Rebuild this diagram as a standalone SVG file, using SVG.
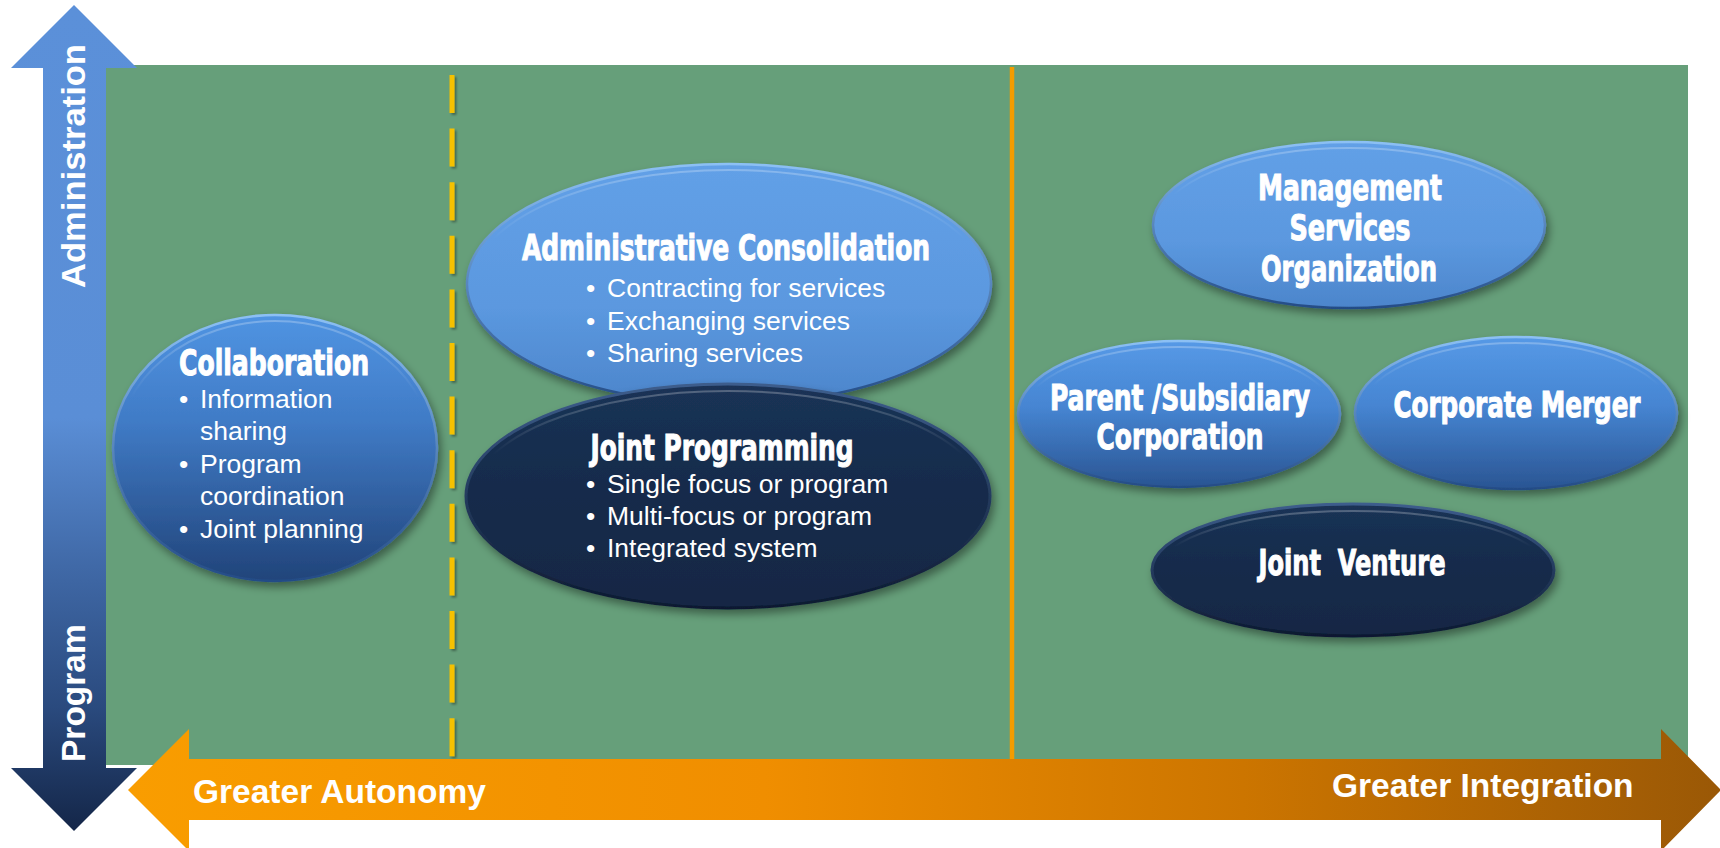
<svg xmlns="http://www.w3.org/2000/svg" width="1720" height="848" viewBox="0 0 1720 848">
<style>
.h{font-family:'Liberation Sans Narrow','DejaVu Sans Condensed','Arial Narrow',sans-serif;font-weight:bold;font-size:35px;fill:#fff;stroke:#fff;stroke-width:1;text-anchor:middle}
.b{font-family:'Liberation Sans',Arial,sans-serif;font-size:26.5px;fill:#fff}
.ax{font-family:'Liberation Sans',Arial,sans-serif;font-weight:bold;font-size:33.5px;fill:#fff}
.light{fill:url(#gLight);stroke:url(#rimLight);stroke-width:2.5;filter:url(#sh)}
.mid{fill:url(#gMid);stroke:url(#rimLight);stroke-width:2.5;filter:url(#sh)}
.collab{fill:url(#gCollab);stroke:url(#rimLight);stroke-width:2.5;filter:url(#sh)}
.dark{fill:url(#gDark);stroke:url(#rimDark);stroke-width:3;filter:url(#sh)}
.hl{fill:none;stroke:url(#hlG);stroke-width:2}
</style>
<defs>
<filter id="sh" x="-10%" y="-10%" width="125%" height="130%">
<feDropShadow dx="3" dy="5" stdDeviation="4" flood-color="#000" flood-opacity="0.4"/>
</filter>
<filter id="lsh" filterUnits="userSpaceOnUse" x="430" y="60" width="50" height="720">
<feDropShadow dx="2" dy="2" stdDeviation="1.2" flood-color="#000" flood-opacity="0.35"/>
</filter>
<linearGradient id="hlG" x1="0" y1="0" x2="0" y2="1">
<stop offset="0" stop-color="#fff" stop-opacity="0.25"/><stop offset="0.3" stop-color="#fff" stop-opacity="0"/>
</linearGradient>
<linearGradient id="gLight" x1="0" y1="0" x2="0" y2="1">
<stop offset="0" stop-color="#62A0E7"/><stop offset="0.6" stop-color="#5B98DF"/><stop offset="1" stop-color="#4C85CB"/>
</linearGradient>
<linearGradient id="gMid" x1="0" y1="0" x2="0" y2="1">
<stop offset="0" stop-color="#5699E6"/><stop offset="0.45" stop-color="#4685D2"/><stop offset="1" stop-color="#2A5593"/>
</linearGradient>
<linearGradient id="gCollab" x1="0" y1="0" x2="0" y2="1">
<stop offset="0" stop-color="#5094E2"/><stop offset="0.4" stop-color="#407BC6"/><stop offset="1" stop-color="#21447A"/>
</linearGradient>
<linearGradient id="gDark" x1="0" y1="0" x2="0" y2="1">
<stop offset="0" stop-color="#1A3255"/><stop offset="0.5" stop-color="#162B4B"/><stop offset="1" stop-color="#132744"/>
</linearGradient>
<linearGradient id="rimLight" x1="0" y1="0" x2="0" y2="1">
<stop offset="0" stop-color="#8CC0F4"/><stop offset="1" stop-color="#244C86"/>
</linearGradient>
<linearGradient id="rimDark" x1="0" y1="0" x2="0" y2="1">
<stop offset="0" stop-color="#3D5D8C"/><stop offset="1" stop-color="#0C1930"/>
</linearGradient>
<linearGradient id="gV" gradientUnits="userSpaceOnUse" x1="0" y1="5" x2="0" y2="831">
<stop offset="0" stop-color="#5B90D9"/><stop offset="0.5" stop-color="#5A8ED6"/><stop offset="0.68" stop-color="#4069A7"/><stop offset="0.85" stop-color="#2A4A7E"/><stop offset="1" stop-color="#142648"/>
</linearGradient>
<linearGradient id="gH" gradientUnits="userSpaceOnUse" x1="128" y1="0" x2="1721" y2="0">
<stop offset="0" stop-color="#F99D00"/><stop offset="0.4" stop-color="#F08E00"/><stop offset="0.7" stop-color="#CC7500"/><stop offset="1" stop-color="#9A5806"/>
</linearGradient>
</defs>

<g id="background">
<rect x="106" y="65" width="1582" height="700" fill="#669F7A"/>
</g>

<g id="connectors">
<line x1="452" y1="75" x2="452" y2="757" stroke="#F5C100" stroke-width="5" stroke-dasharray="38 15.6" filter="url(#lsh)"/>
<line x1="1012" y1="67" x2="1012" y2="759" stroke="#F39C00" stroke-width="4.5"/>
<polygon points="74,5 137,68 106,68 106,768 137,768 74,831 11,768 43,768 43,68 11,68" fill="url(#gV)"/>
<polygon points="128,790 189,729 189,759 1661,759 1661,729 1721,790 1661,851 1661,820 189,820 189,851" fill="url(#gH)"/>
<text class="ax" transform="translate(85,288) rotate(-90)" textLength="244" lengthAdjust="spacingAndGlyphs">Administration</text>
<text class="ax" transform="translate(85,762) rotate(-90)">Program</text>
<text class="ax" x="193" y="803">Greater Autonomy</text>
<text class="ax" x="1332" y="797">Greater Integration</text>
</g>

<g id="collaboration">
<ellipse class="collab" cx="275" cy="448" rx="162" ry="133"/>
<ellipse class="hl" cx="275" cy="449" rx="157" ry="128"/>
<text class="h" x="274" y="375" textLength="190" lengthAdjust="spacingAndGlyphs">Collaboration</text>
<text class="b" x="179" y="408">•</text><text class="b" x="200" y="408">Information</text>
<text class="b" x="200" y="440">sharing</text>
<text class="b" x="179" y="473">•</text><text class="b" x="200" y="473">Program</text>
<text class="b" x="200" y="505">coordination</text>
<text class="b" x="179" y="538">•</text><text class="b" x="200" y="538">Joint planning</text>
</g>

<g id="administrative-consolidation">
<ellipse class="light" cx="729" cy="284" rx="262" ry="120"/>
<ellipse class="hl" cx="729" cy="285" rx="257" ry="115"/>
<text class="h" x="726" y="260" textLength="408" lengthAdjust="spacingAndGlyphs">Administrative Consolidation</text>
<text class="b" x="586" y="297">•</text><text class="b" x="607" y="297">Contracting for services</text>
<text class="b" x="586" y="330">•</text><text class="b" x="607" y="330">Exchanging services</text>
<text class="b" x="586" y="362">•</text><text class="b" x="607" y="362">Sharing services</text>
</g>

<g id="joint-programming">
<ellipse class="dark" cx="728" cy="496" rx="262" ry="112"/>
<ellipse class="hl" cx="728" cy="497" rx="256" ry="106"/>
<text class="h" x="722" y="460" textLength="263" lengthAdjust="spacingAndGlyphs">Joint Programming</text>
<text class="b" x="586" y="493">•</text><text class="b" x="607" y="493">Single focus or program</text>
<text class="b" x="586" y="525">•</text><text class="b" x="607" y="525">Multi-focus or program</text>
<text class="b" x="586" y="557">•</text><text class="b" x="607" y="557">Integrated system</text>
</g>

<g id="management-services-organization">
<ellipse class="light" cx="1349" cy="225" rx="196" ry="83"/>
<ellipse class="hl" cx="1349" cy="226" rx="191" ry="78"/>
<text class="h" x="1350" y="200" textLength="184" lengthAdjust="spacingAndGlyphs">Management</text>
<text class="h" x="1350" y="240" textLength="121" lengthAdjust="spacingAndGlyphs">Services</text>
<text class="h" x="1349" y="281" textLength="176" lengthAdjust="spacingAndGlyphs">Organization</text>
</g>

<g id="parent-subsidiary">
<ellipse class="mid" cx="1179" cy="414" rx="161" ry="73"/>
<ellipse class="hl" cx="1179" cy="415" rx="156" ry="68"/>
<text class="h" x="1180" y="410" textLength="260" lengthAdjust="spacingAndGlyphs">Parent /Subsidiary</text>
<text class="h" x="1180" y="449" textLength="167" lengthAdjust="spacingAndGlyphs">Corporation</text>
</g>

<g id="corporate-merger">
<ellipse class="mid" cx="1516" cy="413" rx="161" ry="76"/>
<ellipse class="hl" cx="1516" cy="414" rx="156" ry="71"/>
<text class="h" x="1517" y="417" textLength="247" lengthAdjust="spacingAndGlyphs">Corporate Merger</text>
</g>

<g id="joint-venture">
<ellipse class="dark" cx="1353" cy="570" rx="201" ry="66"/>
<ellipse class="hl" cx="1353" cy="571" rx="195" ry="60"/>
<text class="h" x="1352" y="575" textLength="187" lengthAdjust="spacingAndGlyphs" xml:space="preserve" style="white-space:pre">Joint  Venture</text>
</g>
</svg>
